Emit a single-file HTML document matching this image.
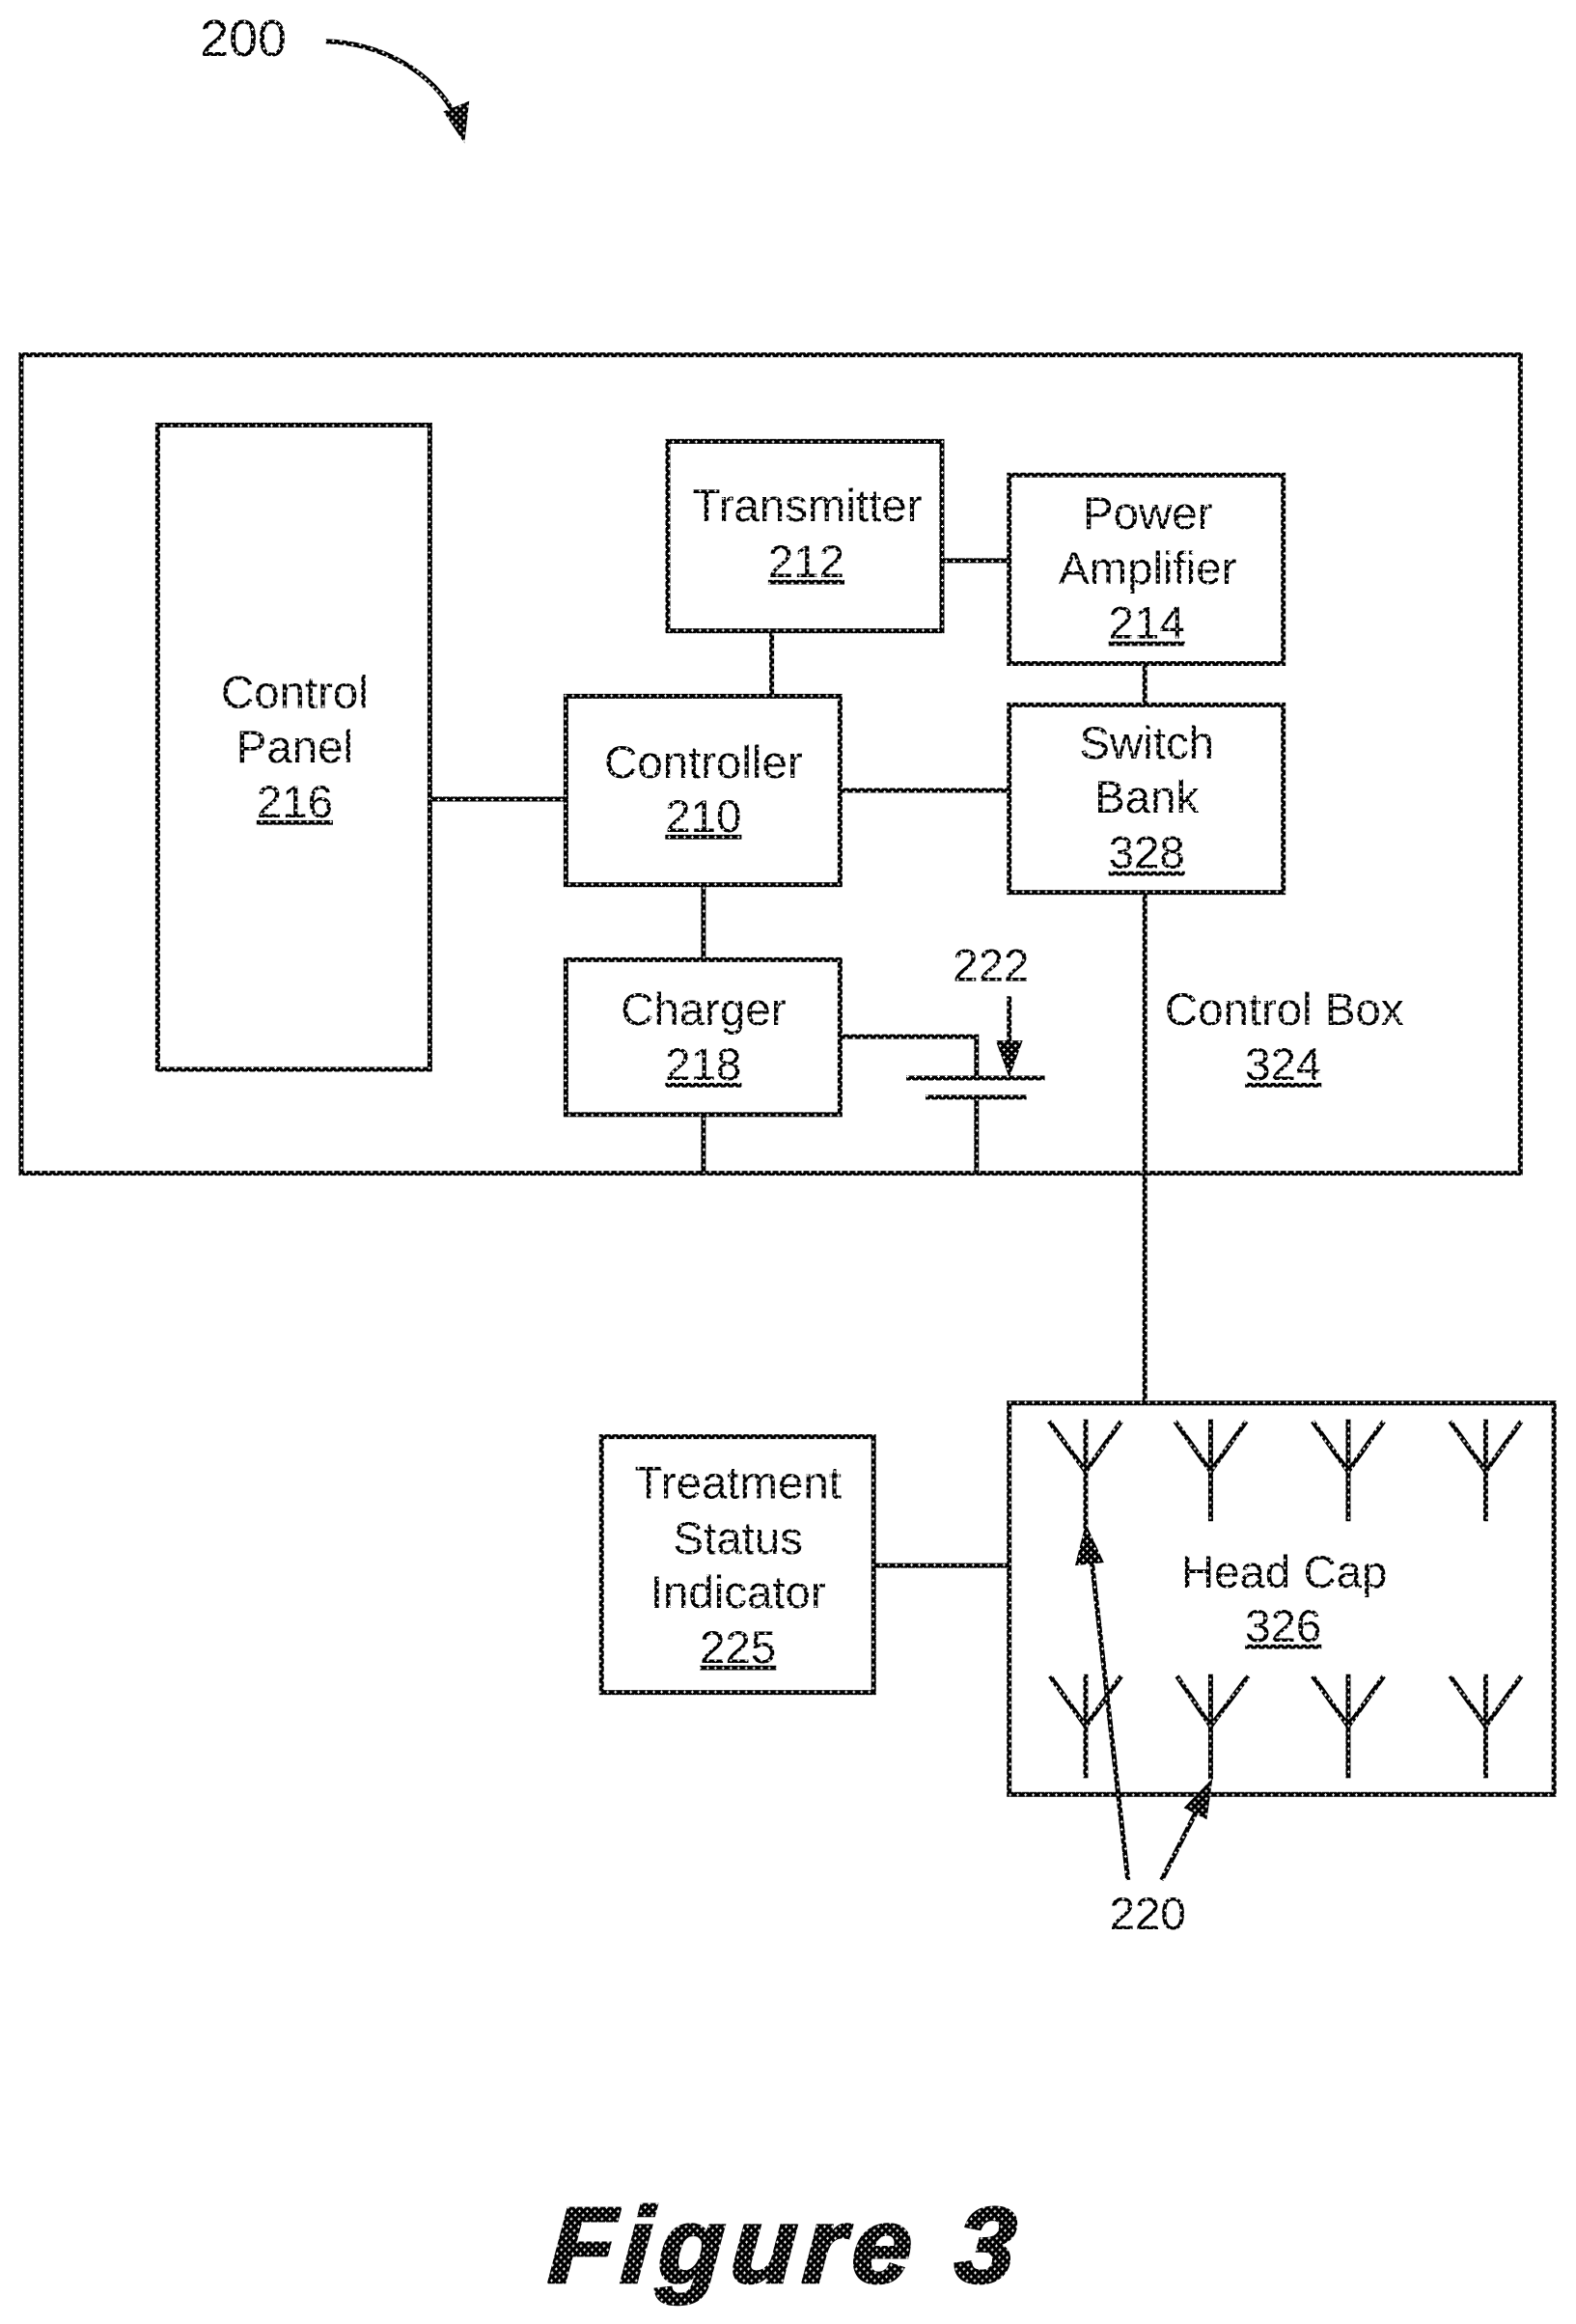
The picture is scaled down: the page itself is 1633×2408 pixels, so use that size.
<!DOCTYPE html>
<html><head><meta charset="utf-8"><style>
html,body{margin:0;padding:0;background:#fff}
svg{display:block}
text{font-family:"Liberation Sans",sans-serif;font-size:47.6px;text-anchor:middle;fill:url(#d)}
.b{fill:none;stroke:url(#d);stroke-width:5}
.l{fill:none;stroke:url(#d);stroke-width:5}
.h{fill:url(#d)}
</style></head><body>
<svg xmlns="http://www.w3.org/2000/svg" width="1633" height="2408" viewBox="0 0 1633 2408">
<defs>
<pattern id="d" patternUnits="userSpaceOnUse" width="8" height="8">
<rect width="8" height="8" fill="#000"/>
<path d="M1 2h3v1H1zM2 1h1v3H2zM5 6h3v1H5zM6 5h1v3H6z" fill="#fff"/>
</pattern>
</defs>
<rect width="1633" height="2408" fill="#fff"/>
<g transform="scale(0.9964)">

<!-- Outer boxes -->
<rect class="b" x="22" y="369" width="1559" height="851"/>
<rect class="b" x="164" y="442" width="283" height="670"/>
<rect class="b" x="1049.5" y="1459" width="566.5" height="407"/>

<g transform="translate(1.5 1)">
<!-- Boxes -->
<rect class="b" x="693" y="458" width="285" height="197"/>
<rect class="b" x="1048" y="493" width="285" height="196"/>
<rect class="b" x="587" y="723" width="285" height="196"/>
<rect class="b" x="1048" y="732" width="285" height="195"/>
<rect class="b" x="587" y="997" width="285" height="161"/>
<rect class="b" x="624" y="1493" width="283" height="266"/>

<!-- Connectors -->
<path class="l" d="M447 830H587M978 582H1048M801 655V723M1189 689V732M872 821H1048M730 920V997M730 1159V1219M872 1077H1014V1120M941 1120H1085M961 1140H1066M1014 1140V1219M1189 928V1457M907 1627H1048"/>

<!-- 222 arrow -->
<path class="l" d="M1048 1035V1090"/>
<polygon class="h" points="1034,1081 1062,1081 1048,1120"/>
</g>

<!-- Antennas -->
<path class="l" d="M1129 1476V1590M1091 1478L1129 1530L1166 1478M1259 1476V1582M1222 1478L1259 1530L1296 1478M1402 1476V1582M1365 1478L1402 1530L1439 1478M1545 1476V1582M1508 1478L1545 1530L1582 1478"/>
<path class="l" d="M1129 1741V1849M1092 1743L1129 1795L1166 1743M1259 1741V1850M1224 1743L1259 1795L1298 1743M1402 1741V1849M1365 1743L1402 1795L1439 1743M1545 1741V1849M1508 1743L1545 1795L1582 1743"/>

<!-- 220 arrows -->
<path class="l" d="M1173 1955L1135 1620"/>
<polygon class="h" points="1129,1584 1118,1628 1148,1625"/>
<path class="l" d="M1208 1955L1245 1882"/>
<polygon class="h" points="1261,1849 1231,1880 1255,1892"/>

<!-- 200 arrow -->
<path class="l" d="M339 43C395 44 452 75 474 122"/>
<polygon class="h" points="483,149 461,116 488,105"/>

<!-- Labels -->
<text x="253" y="58" style="font-size:54px">200</text>
<g transform="translate(1.5 0)">
<text x="305" y="736">Control</text>
<text x="305" y="793">Panel</text>
<text x="305" y="850" text-decoration="underline">216</text>
<text x="838" y="542">Transmitter</text>
<text x="837" y="600" text-decoration="underline">212</text>
<text x="1192" y="550">Power</text>
<text x="1192" y="607">Amplifier</text>
<text x="1191" y="664" text-decoration="underline">214</text>
<text x="730" y="809">Controller</text>
<text x="730" y="865" text-decoration="underline">210</text>
<text x="1191" y="789">Switch</text>
<text x="1191" y="845">Bank</text>
<text x="1191" y="903" text-decoration="underline">328</text>
<text x="730" y="1066">Charger</text>
<text x="730" y="1123" text-decoration="underline">218</text>
<text x="1334" y="1066">Control Box</text>
<text x="1333" y="1123" text-decoration="underline">324</text>
<text x="1029" y="1020">222</text>
<text x="766" y="1558">Treatment</text>
<text x="766" y="1616">Status</text>
<text x="766" y="1672">Indicator</text>
<text x="766" y="1729" text-decoration="underline">225</text>
<text x="1334" y="1651">Head Cap</text>
<text x="1333" y="1707" text-decoration="underline">326</text>
<text x="1192" y="2006">220</text>
</g>
<text transform="translate(815 2373) skewX(-4)" x="0" y="0" style="font-size:111px;font-weight:bold;font-style:italic;letter-spacing:7.5px;stroke:url(#d);stroke-width:3.5">Figure 3</text>
</g>
</svg>
</body></html>
